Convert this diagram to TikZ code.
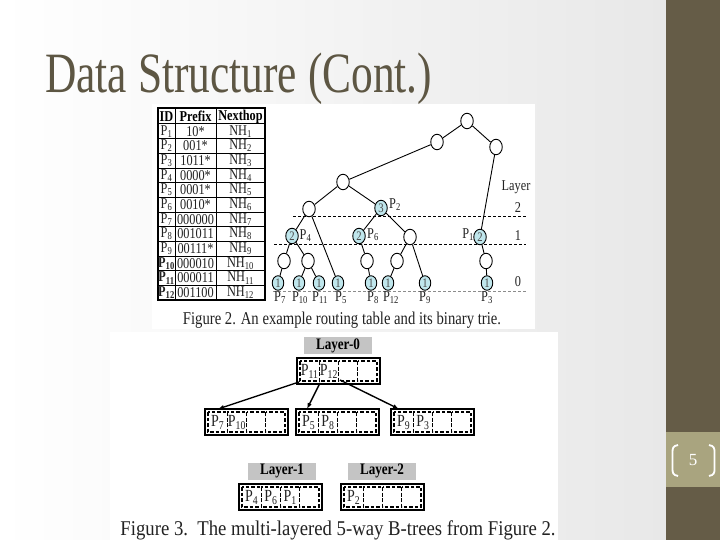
\documentclass[tikz,border=0pt]{standalone}
\usepackage{fontspec}
\setmainfont{Liberation Serif}
\usepackage{graphicx}
\usetikzlibrary{shapes.geometric,arrows.meta,calc}
\definecolor{titlecol}{HTML}{5D5643}
\definecolor{barcol}{HTML}{655C47}
\definecolor{bandcol}{HTML}{A9A47F}
\definecolor{nodefill}{HTML}{BFE6EC}
\definecolor{laygray}{HTML}{C4C4C4}
\definecolor{inktext}{HTML}{222222}
\newcommand\sq[1]{\scalebox{0.82}[1]{#1}}
\newcommand\Ps[1]{P\textsubscript{#1}}
\newcommand\btree[6]{%
  \node[bbox] (#1) at (#2+41.5,#3+13) {};
  \foreach \s in {0,1,2,3} {\draw[slot] (#2+3+19.25*\s,#3+3) rectangle (#2+22.25+19.25*\s,#3+23);}
  \node[key] (#1k1) at (#2+12.6,#3+13.5) {#4};
  \node[key] (#1k2) at (#2+31.9,#3+13.5) {#5};
  \node[key] (#1k3) at (#2+51.1,#3+13.5) {#6};
}
\begin{document}
\begin{tikzpicture}[x=1bp,y=-1bp,
  tn/.style={ellipse, draw, line width=0.9bp, fill=white, minimum width=12.5bp, minimum height=15.5bp, inner sep=0pt, font=\fontsize{13bp}{13bp}\selectfont, text=black!70},
  tf/.style={tn, fill=nodefill},
  lf/.style={tf, minimum width=11.5bp, minimum height=14.5bp},
  lbl/.style={inner sep=0pt, font=\fontsize{15bp}{15bp}\selectfont, text=inktext},
  edge/.style={line width=0.9bp},
  lay/.style={dashed, line width=0.8bp, dash pattern=on 3bp off 2bp},
  cell/.style={inner sep=0pt, font=\fontsize{15bp}{15bp}\selectfont, text=inktext},
  hcell/.style={inner sep=0pt, font=\bfseries\fontsize{15bp}{15bp}\selectfont, text=black},
  bbox/.style={draw, line width=2bp, minimum width=83bp, minimum height=26bp, inner sep=0pt, fill=white},
  slot/.style={line width=1.1bp, dash pattern=on 3.5bp off 2bp},
  key/.style={inner sep=0pt, font=\fontsize{17bp}{17bp}\selectfont, text=inktext},
  laybox/.style={fill=laygray, minimum width=68bp, minimum height=17bp, inner sep=0pt, font=\bfseries\fontsize{16bp}{16bp}\selectfont},
  arr/.style={line width=1.4bp, -{Latex[length=6bp,width=4.5bp]}},
]
\useasboundingbox (0,0) rectangle (720,540);
% background
\fill[left color=white, right color=black!9] (0,0) rectangle (666,540);
\fill[barcol] (666,0) rectangle (720,540);
\fill[bandcol] (666,432) rectangle (720,487);
% figure areas
\fill[white] (152,104) rectangle (535,329);
\fill[white] (110,332) rectangle (558,540);
% title
\node[anchor=base west, inner sep=0pt, text=titlecol] (title) at (45,93)
  {\resizebox{387bp}{\height}{\fontsize{57bp}{60bp}\selectfont Data Structure (Cont.)}};
% slide number
\node[text=white, inner sep=0pt, font=\fontsize{17bp}{17bp}\selectfont] (pnum) at (693,460) {5};
\draw[white, line width=1.8bp] (678,445) .. controls (673,446) and (672.5,448) .. (672.5,452) -- (672.5,469) .. controls (672.5,473) and (673,475) .. (678,476);
\draw[white, line width=1.8bp] (709,445) .. controls (714,446) and (714.5,448) .. (714.5,452) -- (714.5,469) .. controls (714.5,473) and (714,475) .. (709,476);
% ---------- table ----------
\draw[line width=1.5bp] (158,108) rectangle (265,300);
\draw[line width=1bp] (175,108) -- (175,300) (216,108) -- (216,300);
\foreach \k in {0,...,11} {\draw[line width=1bp] (158,124+14.67*\k) -- (265,124+14.67*\k);}
\node[hcell] (hid) at (166.5,116.5) {\sq{ID}};
\node[hcell] (hpre) at (195.5,116.5) {\sq{Prefix}};
\node[hcell] (hnh) at (240.5,116.5) {\sq{Nexthop}};
\foreach \i/\pre in {1/10*,2/001*,3/1011*,4/0000*,5/0001*,6/0010*,7/000000,8/001011,9/00111*,10/000010,11/000011,12/001100} {
  \node[cell] (id\i) at (166.5,124+14.67*\i-7.33) {\sq{\ifnum\i>9 \bfseries\fi P\textsubscript{\i}}};
  \node[cell] (pre\i) at (195.5,124+14.67*\i-7.33) {\sq{\pre}};
  \node[cell] (nh\i) at (240.5,124+14.67*\i-7.33) {\sq{NH\textsubscript{\i}}};
}
% ---------- trie ----------
\coordinate (l2a) at (293,216); \coordinate (l2b) at (526,216);
\coordinate (l1a) at (274,244); \coordinate (l1b) at (526,244);
\coordinate (l0a) at (273,291); \coordinate (l0b) at (526,291);
\draw[lay] (l2a) -- (l2b);
\draw[lay] (l1a) -- (l1b);
\draw[lay, black!45] (l0a) -- (l0b);
\node[tn] (r) at (467,121) {};
\node[tn] (a) at (437,142) {};
\node[tn] (b) at (496,147) {};
\node[tn] (c) at (343,182) {};
\node[tn] (d) at (309,209) {};
\node[tf] (e) at (381,208) {\sq{3}};
\node[tf] (f) at (292,236) {\sq{2}};
\node[tf] (g) at (359,236) {\sq{2}};
\node[tn] (h) at (410,237) {};
\node[tf] (i) at (480,237) {\sq{2}};
\node[tn] (j) at (284,261) {};
\node[tn] (k) at (308,261) {};
\node[tn] (l) at (367,261) {};
\node[tn] (m) at (397,261) {};
\node[tn] (n) at (486,261) {};
\foreach \nm/\xx in {L7/278,L10/299,L11/319,L5/338,L8/371,L12/388,L9/425,L3/487} {
  \node[lf] (\nm) at (\xx,283) {\sq{1}};
}
\foreach \u/\v in {r/a,r/b,a/c,b/i,c/d,c/e,d/f,d/L5,e/g,e/h,f/j,f/k,j/L7,k/L10,k/L11,g/l,l/L8,h/m,m/L12,h/L9,i/n,n/L3} {
  \draw[edge] (\u) -- (\v);
}
\node[lbl, anchor=west] (tP2) at (389,205) {\sq{\Ps{2}}};
\node[lbl, anchor=west] (tP4) at (299.5,236) {\sq{\Ps{4}}};
\node[lbl, anchor=west] (tP6) at (367,235) {\sq{\Ps{6}}};
\node[lbl, anchor=east] (tP1) at (474,235) {\sq{\Ps{1}}};
\foreach \nm/\xx/\sub in {7/280/7,10/300/10,11/320/11,5/341/5,8/373/8,12/391/12,9/425/9,3/487/3} {
  \node[lbl] (lab\nm) at (\xx,298) {\sq{\Ps{\sub}}};
}
\node[lbl] (layer) at (516,187) {\sq{Layer}};
\node[lbl] (lay2) at (518,208) {\sq{2}};
\node[lbl] (lay1) at (518,236) {\sq{1}};
\node[lbl] (lay0) at (518,282) {\sq{0}};
\node[inner sep=0pt, text=inktext] (cap2) at (342,320)
  {\resizebox{318bp}{\height}{\fontsize{18bp}{18bp}\selectfont Figure 2. An example routing table and its binary trie.}};
% ---------- B-trees ----------
\node[laybox] (lay0box) at (338,345.5) {\sq{Layer-0}};
\btree{root}{297}{358}{\sq{\Ps{11}}}{\sq{\Ps{12}}}{}
\btree{cA}{205}{409}{\sq{\Ps{7}}}{\sq{\Ps{10}}}{}
\btree{cB}{296}{409}{\sq{\Ps{5}}}{\sq{\Ps{8}}}{}
\btree{cC}{391}{409}{\sq{\Ps{9}}}{\sq{\Ps{3}}}{}
\coordinate (s0) at (299,382); \coordinate (s1) at (320,383); \coordinate (s2) at (340,380);
\coordinate (t0) at (218,409); \coordinate (t1) at (307,409); \coordinate (t2) at (399,409);
\draw[arr] (s0) -- (t0);
\draw[arr] (s1) -- (t1);
\draw[arr] (s2) -- (t2);
\node[laybox] (lay1box) at (282,471) {\sq{Layer-1}};
\node[laybox] (lay2box) at (382,471) {\sq{Layer-2}};
\btree{bL1}{239}{484}{\sq{\Ps{4}}}{\sq{\Ps{6}}}{\sq{\Ps{1}}}
\btree{bL2}{341}{484}{\sq{\Ps{2}}}{}{}
\node[inner sep=0pt, text=inktext, anchor=base] (cap3) at (338,535)
  {\resizebox{435bp}{\height}{\fontsize{21bp}{21bp}\selectfont Figure 3.\ \ The multi-layered 5-way B-trees from Figure 2.}};
\end{tikzpicture}
\end{document}
